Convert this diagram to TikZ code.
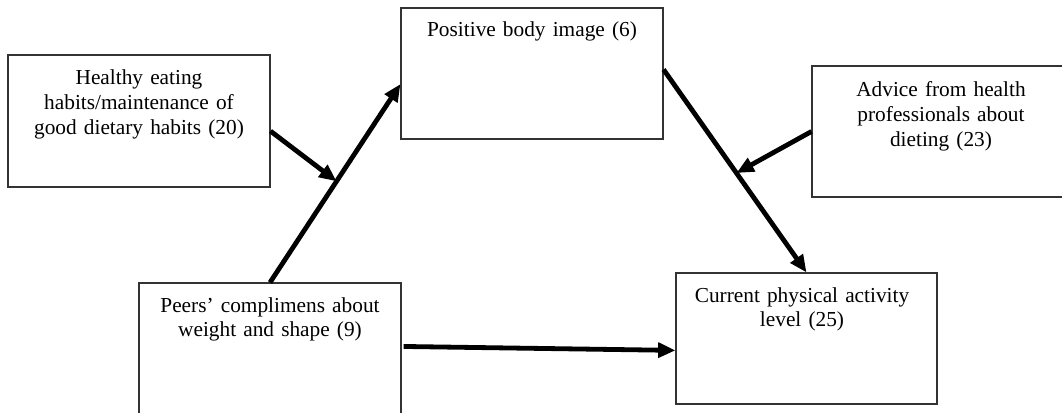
\documentclass[tikz,border=0pt]{standalone}
\usepackage{fontspec}
\setmainfont{Liberation Serif}
\usetikzlibrary{arrows.meta,fit,calc}
\begin{document}
\begin{tikzpicture}[x=0.75pt,y=-0.75pt,
  box/.style={draw=black!80, line width=0.8pt, inner sep=0pt},
  txt/.style={font=\fontsize{16}{18.4}\selectfont, align=center, text width=190pt, inner sep=0pt, anchor=base},
  arr/.style={line width=3.6pt, -{Triangle[length=13pt,width=11pt]}}]
\useasboundingbox (0,0) rectangle (1062,413);
% boxes
\node[box, fit={(8,55) (270,187)}] (healthy) {};
\node[box, fit={(401,8) (663,139)}] (positive) {};
\node[box, fit={(812,66) (1070,197)}] (advice) {};
\node[box, fit={(139,283) (401,420)}] (peers) {};
\node[box, fit={(676,273) (937,404)}] (current) {};
% texts
\node[txt] (thealthy) at (139,85) {Healthy eating\\habits/maintenance of\\good dietary habits (20)};
\node[txt] (tpositive) at (532,37) {Positive body image (6)};
\node[txt] (tadvice) at (941,97) {Advice from health\\professionals about\\dieting (23)};
\node[txt] (tpeers) at (270,312) {Peers’ complimens about\\weight and shape (9)};
\node[txt] (tcurrent) at (802,302) {Current physical activity\\level (25)};
% arrows
\draw[arr] (peers.north) -- coordinate[pos=0.51] (m1) ($(positive.north west)!0.58!(positive.south west)$);
\draw[arr] ($(healthy.north east)!0.576!(healthy.south east)$) -- (m1);
\draw[arr] ($(positive.north east)!0.47!(positive.south east)$) -- coordinate[pos=0.51] (m2) (current.north);
\draw[arr] (advice.west) -- (m2);
\coordinate (ps) at ($(peers.north east)+(2,64)$);
\draw[arr] (ps) -- ($(current.north west)!0.59!(current.south west)$);
\end{tikzpicture}
\end{document}
